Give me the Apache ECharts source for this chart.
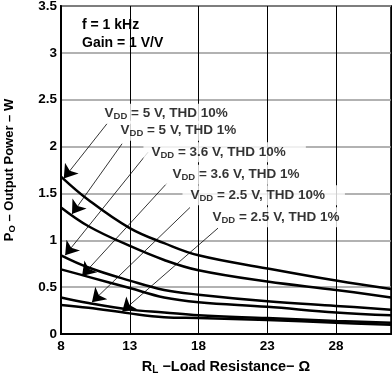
<!DOCTYPE html>
<html>
<head>
<meta charset="utf-8">
<script src="https://cdn.jsdelivr.net/npm/echarts@6/dist/echarts.min.js"></script>
<style>
  html, body { margin: 0; padding: 0; background: #fff; }
  #chart { width: 392px; height: 375px; }
</style>
</head>
<body>
<div id="chart"></div>
<script>
// load resistance (ohm) where the curves were read
const resistance = [8, 10, 13, 15.5, 18, 23, 28, 32]

// output power (W)
const vdd5Thd10  = [1.68, 1.43, 1.13, 0.97, 0.84, 0.70, 0.57, 0.48]
const vdd5Thd1   = [1.35, 1.15, 0.94, 0.79, 0.68, 0.56, 0.47, 0.39]
const vdd36Thd10 = [0.84, 0.71, 0.57, 0.47, 0.42, 0.35, 0.30, 0.26]
const vdd36Thd1  = [0.69, 0.61, 0.49, 0.39, 0.34, 0.29, 0.23, 0.20]
const vdd25Thd10 = [0.39, 0.33, 0.26, 0.23, 0.20, 0.17, 0.14, 0.12]
const vdd25Thd1  = [0.31, 0.28, 0.22, 0.18, 0.17, 0.15, 0.12, 0.10]

const curves = [vdd5Thd10, vdd5Thd1, vdd36Thd10, vdd36Thd1, vdd25Thd10, vdd25Thd1]
const curveNames = ['5 V, THD 10%', '5 V, THD 1%', '3.6 V, THD 10%', '3.6 V, THD 1%', '2.5 V, THD 10%', '2.5 V, THD 1%']

const xTicks = [8, 13, 18, 23, 28]
const yTicks = [0, 0.5, 1, 1.5, 2, 2.5, 3, 3.5]

// callouts, in data units: where the label box sits, and where the arrow goes
const noteAt   = [[10.55, 2.35], [11.71, 2.17], [13.96, 1.94], [15.49, 1.70], [16.8, 1.48], [18.4, 1.245]]
const arrowFrom = [[11.35, 2.245], [12.44, 2.03], [14.33, 1.94], [15.71, 1.61], [17.38, 1.35], [19.42, 1.13]]
const arrowTo   = [[8.2, 1.66], [8.8, 1.28], [8.3, 0.84], [9.53, 0.62], [10.25, 0.34], [12.45, 0.24]]

const font = 'Liberation Sans, Arial, sans-serif'
const bold = { fontFamily: font, fontWeight: 'bold', color: '#000' }

const chart = echarts.init(document.getElementById('chart'))

const option = {
  animation: false,
  textStyle: { fontFamily: font },
  title: {
    text: 'f = 1 kHz\nGain = 1 V/V',
    left: 82,
    top: 16,
    padding: 0,
    textStyle: { ...bold, fontSize: 14, lineHeight: 18 }
  },
  grid: {
    left: 61,
    right: 1,
    top: 6,
    bottom: 41,
    outerBoundsMode: 'none',
    containLabel: false,
    show: true,
    borderColor: '#333',
    borderWidth: 2
  },
  xAxis: {
    type: 'value',
    min: xTicks[0],
    max: 32,
    interval: xTicks[1] - xTicks[0],
    name: '{b|R}{s|L}{b| \u2212Load Resistance\u2212 \u03a9}',
    nameLocation: 'middle',
    nameGap: 24,
    nameTextStyle: {
      rich: {
        b: { ...bold, fontSize: 14.5 },
        s: { ...bold, fontSize: 10, padding: [7, 0, 0, 0] }
      }
    },
    axisLine: { lineStyle: { color: '#000', width: 2 } },
    axisTick: { show: false },
    axisLabel: {
      ...bold,
      fontSize: 13.5,
      margin: 5,
      formatter: v => xTicks.includes(v) ? String(v) : ''
    },
    splitLine: { show: true, lineStyle: { color: '#000', width: 1 } }
  },
  yAxis: {
    type: 'value',
    min: yTicks[0],
    max: yTicks[yTicks.length - 1],
    interval: yTicks[1] - yTicks[0],
    name: '{b|P}{s|O}{b| \u2013 Output Power \u2013 W}',
    nameLocation: 'middle',
    nameGap: 44,
    nameTextStyle: {
      rich: {
        b: { ...bold, fontSize: 13 },
        s: { ...bold, fontSize: 9.5, padding: [6, 0, 0, 0] }
      }
    },
    axisLine: { show: true, lineStyle: { color: '#000', width: 2 } },
    axisTick: { show: false },
    axisLabel: { ...bold, fontSize: 13.5, margin: 4 },
    splitLine: { show: true, lineStyle: { color: '#999', width: 1.5 } }
  },
  series: [
    ...curves.map((c, i) => ({
      name: curveNames[i],
      type: 'line',
      smooth: 0.4,
      symbol: 'none',
      data: resistance.map((r, j) => [r, c[j]]),
      lineStyle: { color: '#000', width: 2.5 },
      z: 3
    })),
    {
      type: 'lines',
      coordinateSystem: 'cartesian2d',
      symbol: ['none', 'arrow'],
      symbolSize: [9, 13],
      data: arrowFrom.map((p, i) => ({ coords: [p, arrowTo[i]] })),
      lineStyle: { color: '#000', width: 0.8, opacity: 1 },
      z: 4
    },
    {
      type: 'scatter',
      symbolSize: 1,
      itemStyle: { color: 'rgba(0,0,0,0)' },
      data: noteAt.map((p, i) => ({
        value: p,
        label: { formatter: '{v|V}{s|DD}{v| = ' + curveNames[i] + '}' }
      })),
      label: {
        show: true,
        position: 'right',
        distance: 0,
        backgroundColor: '#fff',
        padding: [2, 20, 2, 8],
        rich: {
          v: { ...bold, fontSize: 13.5 },
          s: { ...bold, fontSize: 9.5, padding: [6, 0, 0, 0] }
        }
      },
      z: 5
    }
  ]
}

chart.setOption(option)
</script>
</body>
</html>
